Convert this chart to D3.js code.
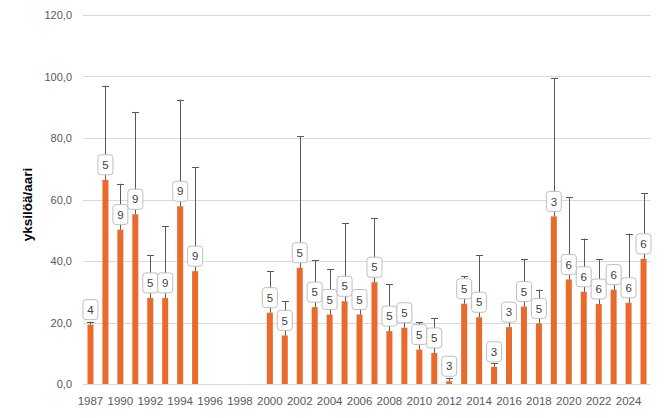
<!DOCTYPE html>
<html>
<head>
<meta charset="utf-8">
<script src="https://cdn.jsdelivr.net/npm/d3@7"></script>
<style>
  body { margin: 0; background: #fff; }
  svg { display: block; font-family: "Liberation Sans", Arial, sans-serif; }
</style>
</head>
<body>
<svg width="671" height="418"></svg>
<script>
'use strict';

// categories (1988 missing in the source, 1996-1999 have no data)
var years = ['1987', '1989', '1990', '1991', '1992', '1993', '1994', '1995', '1996', '1997',
  '1998', '1999', '2000', '2001', '2002', '2003', '2004', '2005', '2006', '2007',
  '2008', '2009', '2010', '2011', '2012', '2013', '2014', '2015', '2016', '2017',
  '2018', '2019', '2020', '2021', '2022', '2023', '2024', '2025'];
var means = [19.3, 66.4, 50.2, 55.2, 28.0, 28.0, 57.8, 36.7, null, null,
  null, null, 23.2, 15.8, 37.8, 25.0, 22.6, 26.9, 22.6, 33.1,
  17.2, 18.3, 11.2, 10.1, 0.9, 26.1, 21.7, 5.6, 18.5, 25.2,
  19.7, 54.5, 34.0, 30.0, 26.0, 30.7, 26.4, 40.7];
var upper = [20.3, 97.0, 65.1, 88.5, 42.0, 51.4, 92.5, 70.5, null, null,
  null, null, 36.7, 26.9, 80.5, 40.3, 37.3, 52.3, 25.5, 54.0,
  32.4, 21.0, 20.1, 21.4, 2.0, 35.1, 41.9, 6.7, 20.5, 40.7,
  30.7, 99.4, 60.7, 47.3, 40.7, 33.0, 48.9, 62.0];
var counts = [4, 5, 9, 9, 5, 9, 9, 9, null, null,
  null, null, 5, 5, 5, 5, 5, 5, 5, 5,
  5, 5, 5, 5, 3, 5, 5, 3, 3, 5,
  5, 3, 6, 6, 6, 6, 6, 6];
var yTicks = [0, 20, 40, 60, 80, 100, 120];

var svg = d3.select('svg');
var margin = {top: 15, right: 20, bottom: 34, left: 83};
var width = 671 - margin.left - margin.right,
    height = 418 - margin.top - margin.bottom;
var g = svg.append('g').attr('transform', 'translate(' + margin.left + ',' + margin.top + ')');

var x = d3.scaleBand().domain(years).range([0, width]);
var y = d3.scaleLinear().domain([0, 120]).range([height, 0]);
var fmt = function (d) { return d3.format('.1f')(d).replace('.', ','); };

// gridlines
g.append('g').selectAll('line')
  .data(yTicks)
  .enter().append('line')
  .attr('x1', 0).attr('x2', width)
  .attr('y1', function (d) { return Math.round(y(d)) + 0.5; })
  .attr('y2', function (d) { return Math.round(y(d)) + 0.5; })
  .attr('stroke', '#d9d9d9').attr('stroke-width', 1);

// y axis
var yAxis = d3.axisLeft(y).tickValues(yTicks).tickFormat(fmt).tickSize(0).tickPadding(11);
g.append('g').call(yAxis)
  .call(function (s) { s.select('.domain').remove(); })
  .selectAll('text').attr('fill', '#595959').style('font-size', '11px');

// x axis
var xAxis = d3.axisBottom(x).tickSize(0).tickPadding(13)
  .tickValues(years.filter(function (d, i) { return i % 2 === 0; }));
g.append('g').attr('transform', 'translate(0,' + height + ')').call(xAxis)
  .call(function (s) { s.select('.domain').remove(); })
  .selectAll('text').attr('fill', '#595959').style('font-size', '11.5px');

svg.append('text')
  .attr('transform', 'translate(32,' + (margin.top + height / 2 + 5) + ') rotate(-90)')
  .attr('text-anchor', 'middle')
  .style('font-size', '13.5px').style('font-weight', 'bold').attr('fill', '#000')
  .text('yksilöä/aari');

var idx = d3.range(years.length).filter(function (i) { return means[i] != null; });
var cx = function (i) { return x(years[i]) + x.bandwidth() / 2; };
var barW = 6;

// bars
g.append('g').selectAll('rect')
  .data(idx)
  .enter().append('rect')
  .attr('x', function (i) { return cx(i) - barW / 2; })
  .attr('width', barW)
  .attr('y', function (i) { return y(means[i]); })
  .attr('height', function (i) { return y(0) - y(means[i]); })
  .attr('fill', '#ea6a2b');

// error bars
var err = g.append('g').attr('stroke', '#595959').attr('stroke-width', 1);
err.selectAll('line.v').data(idx).enter().append('line').attr('class', 'v')
  .attr('x1', function (i) { return Math.round(cx(i)) + 0.5; })
  .attr('x2', function (i) { return Math.round(cx(i)) + 0.5; })
  .attr('y1', function (i) { return y(means[i]); })
  .attr('y2', function (i) { return y(upper[i]); });
err.selectAll('line.c').data(idx).enter().append('line').attr('class', 'c')
  .attr('x1', function (i) { return Math.round(cx(i)) - 3; })
  .attr('x2', function (i) { return Math.round(cx(i)) + 4; })
  .attr('y1', function (i) { return Math.round(y(upper[i])) + 0.5; })
  .attr('y2', function (i) { return Math.round(y(upper[i])) + 0.5; });

// count labels
var lab = g.append('g').selectAll('g')
  .data(idx)
  .enter().append('g')
  .attr('transform', function (i) { return 'translate(' + cx(i) + ',' + (y(means[i]) - 15) + ')'; });
lab.append('rect')
  .attr('x', -7.5).attr('y', -10).attr('width', 15).attr('height', 20)
  .attr('rx', 3).attr('ry', 3)
  .attr('fill', '#fff').attr('stroke', '#bfbfbf').attr('stroke-width', 1);
lab.append('text')
  .attr('text-anchor', 'middle').attr('dy', '0.36em')
  .style('font-size', '11.5px').attr('fill', '#404040')
  .text(function (i) { return counts[i]; });
</script>
</body>
</html>
